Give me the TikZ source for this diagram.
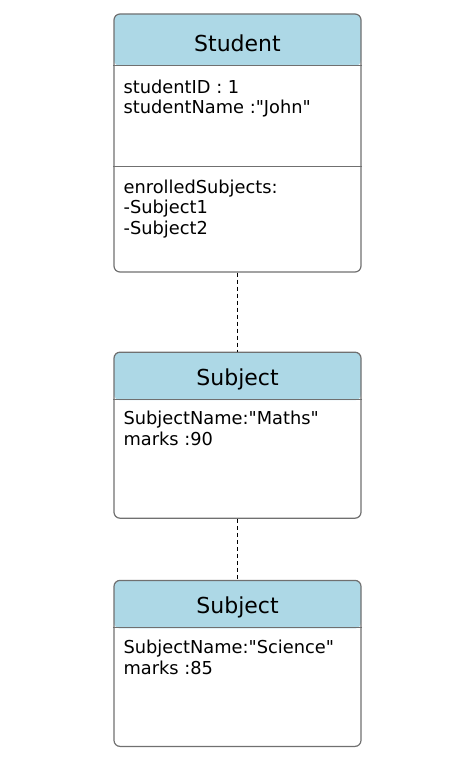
\documentclass[tikz,border=0pt]{standalone}
\usepackage{fontspec}
\setmainfont{DejaVu Sans}
\usepackage{xcolor}
\usetikzlibrary{positioning}

\definecolor{headblue}{RGB}{173,216,230}
\definecolor{boxgray}{RGB}{112,112,112}

\begin{document}
\begin{tikzpicture}[
    x=1pt, y=1pt,
    classbox/.style={draw=boxgray, line width=1.2pt, rounded corners=6pt, minimum width=247pt,
      inner sep=0pt,
      path picture={\fill[headblue] (path picture bounding box.north west)
        rectangle ([yshift=-#1]path picture bounding box.north east);}},
    title/.style={font=\fontsize{22}{26}\selectfont, anchor=base, inner sep=0pt},
    attr/.style={font=\fontsize{17.8}{20.7}\selectfont, align=left, anchor=north west, inner sep=0pt},
    sep/.style={draw=boxgray, line width=1.2pt},
    link/.style={line width=1.3pt, dash pattern=on 4pt off 3pt}
  ]
  \useasboundingbox (0,0) rectangle (475,-770);

  % class boxes
  \node[classbox=52pt, minimum height=258pt] (student) at (237.5,-143) {};
  \node[classbox=48pt, minimum height=166pt, below=79pt of student] (maths) {};
  \node[classbox=48pt, minimum height=166pt, below=61pt of maths] (science) {};

  % header rules
  \draw[sep] ([yshift=-52pt]student.north west) -- ([yshift=-52pt]student.north east);
  \draw[sep] ([yshift=-153.5pt]student.north west) -- ([yshift=-153.5pt]student.north east);
  \draw[sep] ([yshift=-48pt]maths.north west) -- ([yshift=-48pt]maths.north east);
  \draw[sep] ([yshift=-48pt]science.north west) -- ([yshift=-48pt]science.north east);

  % titles
  \node[title] (studenttitle) at ([yshift=-38pt]student.north) {Student};
  \node[title] (mathstitle) at ([yshift=-34pt]maths.north) {Subject};
  \node[title] (sciencetitle) at ([yshift=-34pt]science.north) {Subject};

  % attributes
  \node[attr] (studentattr) at ([xshift=10pt,yshift=-66pt]student.north west)
    {studentID : 1\\studentName :\textquotedbl John\textquotedbl};
  \node[attr] (enrolled) at ([xshift=10pt,yshift=-166pt]student.north west)
    {enrolledSubjects:\\-Subject1\\-Subject2};
  \node[attr] (mathsattr) at ([xshift=10pt,yshift=-59pt]maths.north west)
    {SubjectName:\textquotedbl Maths\textquotedbl\\marks :90};
  \node[attr] (scienceattr) at ([xshift=10pt,yshift=-60pt]science.north west)
    {SubjectName:\textquotedbl Science\textquotedbl\\marks :85};

  % links
  \draw[link] (student.south) -- (maths.north);
  \draw[link] (maths.south) -- (science.north);
\end{tikzpicture}
\end{document}
